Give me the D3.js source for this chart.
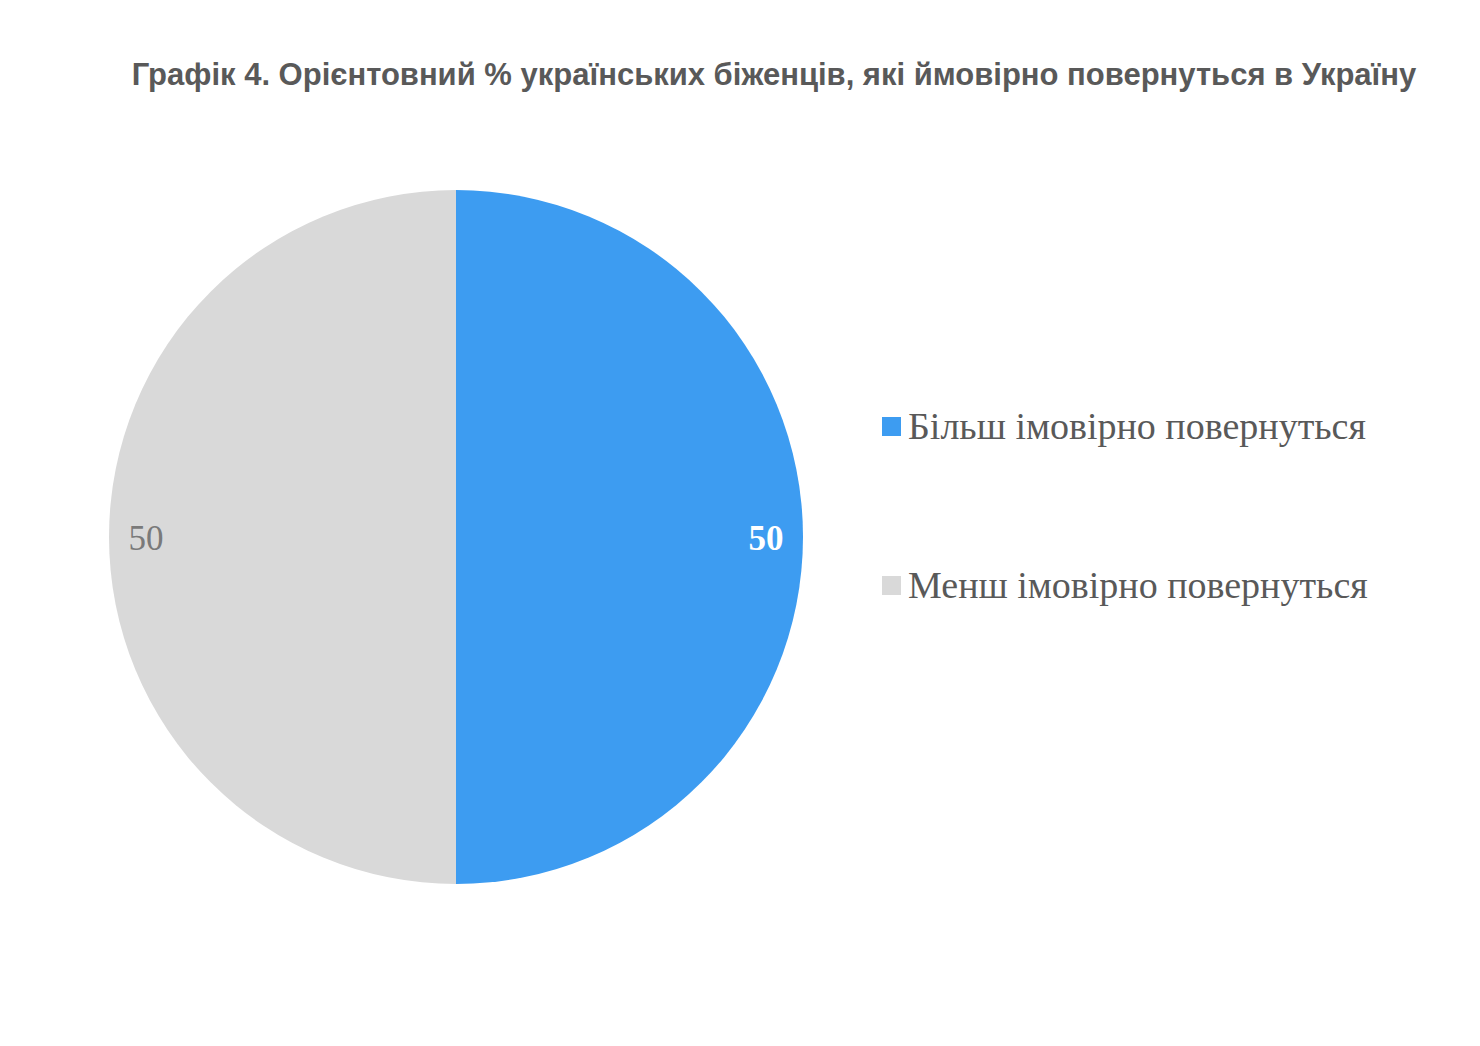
<!DOCTYPE html>
<html>
<head>
<meta charset="utf-8">
<script src="https://cdn.jsdelivr.net/npm/d3@7"></script>
<style>
  body { margin: 0; background: #fff; }
</style>
</head>
<body>
<svg width="1480" height="1046"></svg>
<script>
// chart data
const title = "Графік 4. Орієнтовний % українських біженців, які ймовірно повернуться в Україну";
const categories = ["Більш імовірно повернуться", "Менш імовірно повернуться"];
const values = [50, 50];
const colors = ["#3d9cf1", "#d9d9d9"];
const labelColors = ["#ffffff", "#7a7a7a"];
const labelWeights = ["bold", "normal"];

var svg = d3.select("svg");

svg.append("text")
    .attr("x", 774)
    .attr("y", 85)
    .attr("text-anchor", "middle")
    .attr("font-family", "Liberation Sans, Arial, sans-serif")
    .attr("font-weight", "bold")
    .attr("font-size", 31)
    .attr("fill", "#595959")
    .text(title);

var cx = 456, cy = 537, r = 347;

var pie = d3.pie().sort(null).value(d => d);
var arc = d3.arc().innerRadius(0).outerRadius(r);

var g = svg.append("g").attr("transform", `translate(${cx},${cy})`);

var arcs = pie(values);

g.selectAll("path")
    .data(arcs)
    .enter().append("path")
    .attr("d", arc)
    .attr("fill", (d, i) => colors[i]);

// labels near the outer edge
var labelArc = d3.arc().innerRadius(310).outerRadius(310);
g.selectAll("text.lbl")
    .data(arcs)
    .enter().append("text")
    .attr("class", "lbl")
    .attr("transform", d => `translate(${labelArc.centroid(d)})`)
    .attr("dy", "0.38em")
    .attr("text-anchor", "middle")
    .attr("font-family", "Liberation Serif, Times New Roman, serif")
    .attr("font-size", 35)
    .attr("font-weight", (d, i) => labelWeights[i])
    .attr("fill", (d, i) => labelColors[i])
    .text(d => d.data);

// legend
var legend = svg.append("g").attr("transform", "translate(882,417)");
var items = legend.selectAll("g")
    .data(categories)
    .enter().append("g")
    .attr("transform", (d, i) => `translate(0,${i * 159})`);

items.append("rect")
    .attr("width", 19)
    .attr("height", 19)
    .attr("fill", (d, i) => colors[i]);

items.append("text")
    .attr("x", 26)
    .attr("y", 22)
    .attr("font-family", "Liberation Serif, Times New Roman, serif")
    .attr("font-size", 38)
    .attr("fill", "#595959")
    .text(d => d);
</script>
</body>
</html>
